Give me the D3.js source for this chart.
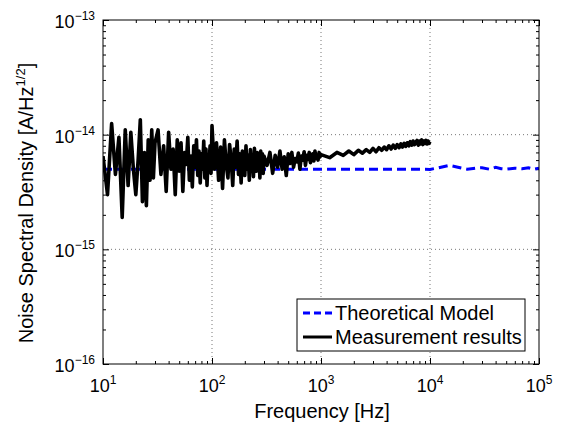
<!DOCTYPE html>
<html>
<head>
<meta charset="utf-8">
<script src="https://cdn.jsdelivr.net/npm/d3@7"></script>
<style>
  body { margin: 0; background: #fff; }
  text { font-family: "Liberation Sans", Arial, sans-serif; fill: #000; }
</style>
</head>
<body>
<div id="chart"></div>
<script>
// Axis decades
const xTicks = [10, 100, 1000, 10000, 100000]
const xTickExp = ["1", "2", "3", "4", "5"]
const yTicks = [1e-16, 1e-15, 1e-14, 1e-13]
const yTickExp = ["\u221216", "\u221215", "\u221214", "\u221213"]

const seriesNames = ["Theoretical Model", "Measurement results"]

// Theoretical model (values in 1e-15 A/Hz^1/2)
const theoryFreq = [10, 100, 1000, 5000, 10000, 12000, 15000, 18000, 22000, 26000,
  30000, 35000, 40000, 45000, 50000, 60000, 70000, 80000, 90000, 100000]
const theoryVal = [5.0, 5.0, 5.0, 5.0, 4.98, 5.15, 5.4, 5.2, 5.0, 5.1,
  5.15, 5.0, 5.2, 5.05, 5.0, 5.1, 5.05, 5.15, 5.0, 5.1]

// Measurement results (values in 1e-15 A/Hz^1/2)
const measFreq = [
  10, 11, 12, 13, 14, 15, 16, 17, 18, 19, 20, 21, 22, 23, 24, 25, 26, 27, 28, 29, 30,
  32, 34, 36, 38, 40, 42, 44, 46, 48, 50, 52, 54, 56, 58, 60, 62, 64, 66, 68, 70,
  72, 74, 76, 78, 80, 82, 84, 86, 88, 90, 92, 94, 96, 98, 100,
  105, 110, 115, 120, 125, 130, 135, 140, 145, 150, 155, 160, 165, 170, 175, 180, 185, 190, 195, 200,
  205, 210, 215, 220, 225, 230, 235, 240, 245, 250, 255, 260, 265, 270, 275, 280, 285, 290, 295, 300,
  320, 340, 360, 380, 400, 420, 440, 460, 480, 500, 520, 540, 560, 580, 600, 620, 640, 660,
  680, 700, 720, 740, 760, 780, 800, 820, 840, 860, 880, 900, 920, 940, 960, 980, 1000,
  1200, 1400, 1600, 1800, 2000, 2200, 2400, 2600, 2800, 3000, 3200, 3400, 3600, 3800, 4000,
  4200, 4400, 4600, 4800, 5000, 5200, 5400, 5600, 5800, 6000, 6200, 6400, 6600, 6800, 7000,
  7200, 7400, 7600, 7800, 8000, 8200, 8400, 8600, 8800, 9000, 9200, 9400, 9600, 9800, 10000
]
const measVal = [
  6.5, 3.0, 12.5, 4.5, 9.5, 1.9, 11.0, 3.6, 10.5, 5.0, 3.0, 6.0, 13.5, 2.6, 7.0, 2.4, 9.0, 4.0, 11.0, 4.2, 8.5,
  11.0, 4.5, 8.0, 3.2, 10.5, 5.0, 7.5, 3.0, 9.0, 4.8, 8.5, 3.2, 7.0, 5.5, 9.5, 4.0, 6.5, 3.5, 8.0, 5.2,
  9.0, 4.4, 7.2, 3.8, 6.8, 5.0, 8.8, 4.2, 7.5, 3.6, 6.2, 5.4, 8.0, 4.6, 12.0,
  5.0, 8.5, 4.0, 7.8, 3.4, 9.0, 5.5, 4.2, 8.2, 6.0, 3.6, 7.5, 5.2, 8.8, 4.5, 6.8, 3.8, 7.2, 5.6, 4.4,
  8.0, 5.0, 6.6, 4.0, 7.4, 5.4, 6.2, 4.3, 7.6, 5.8, 4.8, 7.0, 5.2, 6.4, 4.2, 7.2, 5.6, 6.8, 4.6, 6.5,
  5.4, 7.0, 4.6, 6.6, 5.2, 7.2, 5.0, 6.4, 4.4, 6.8, 5.6, 7.0, 5.2, 6.2, 5.8, 6.9, 5.0, 6.5,
  6.0, 7.1, 5.4, 6.6, 6.1, 7.0, 5.7, 6.4, 6.8, 5.9, 7.2, 6.2, 6.6, 6.0, 7.0, 6.4, 6.7,
  6.3, 7.0, 6.6, 7.2, 6.7, 7.3, 6.9, 7.4, 7.0, 7.6, 7.1, 7.7, 7.3, 7.8, 7.4,
  8.0, 7.5, 8.1, 7.6, 8.2, 7.7, 8.3, 7.8, 8.4, 7.9, 8.5, 8.0, 8.7, 8.1, 8.8,
  8.2, 8.6, 8.9, 8.1, 8.8, 8.3, 9.0, 8.2, 8.8, 8.4, 8.9, 8.3, 8.8, 8.4, 8.7
]

const w = 561
const h = 426
const pLeft = 103, pTop = 20, pRight = 539, pBottom = 364

const xScale = d3.scaleLog().domain([10, 1e5]).range([pLeft, pRight])
const yScale = d3.scaleLog().domain([1e-16, 1e-13]).range([pBottom, pTop])

const svg = d3.select("#chart")
  .append("svg")
  .attr("width", w)
  .attr("height", h)

svg.append("defs").append("clipPath")
  .attr("id", "plot-clip")
  .append("rect")
  .attr("x", pLeft).attr("y", pTop)
  .attr("width", pRight - pLeft).attr("height", pBottom - pTop)

// Grid (dotted, inner decades only)
svg.append("g").selectAll("line")
  .data(xTicks.slice(1, -1))
  .enter().append("line")
  .attr("x1", d => xScale(d)).attr("x2", d => xScale(d))
  .attr("y1", pTop).attr("y2", pBottom)
  .attr("stroke", "#777").attr("stroke-dasharray", "1,3")

svg.append("g").selectAll("line")
  .data(yTicks.slice(1, -1))
  .enter().append("line")
  .attr("y1", d => yScale(d)).attr("y2", d => yScale(d))
  .attr("x1", pLeft).attr("x2", pRight)
  .attr("stroke", "#777").attr("stroke-dasharray", "1,3")

// Minor tick values
const minorX = []
xTicks.slice(0, -1).forEach(d => { for (let k = 2; k < 10; k++) minorX.push(d * k) })
const minorY = []
yTicks.slice(0, -1).forEach(d => { for (let k = 2; k < 10; k++) minorY.push(d * k) })

function drawAxis(axis, transform) {
  const g = svg.append("g").attr("transform", transform).call(axis)
  g.select(".domain").remove()
  g.selectAll(".tick line").attr("stroke", "#000")
  g.selectAll(".tick text").remove()
}
drawAxis(d3.axisBottom(xScale).tickValues(xTicks).tickSize(-6).tickFormat(""), `translate(0,${pBottom})`)
drawAxis(d3.axisBottom(xScale).tickValues(minorX).tickSize(-3).tickFormat(""), `translate(0,${pBottom})`)
drawAxis(d3.axisTop(xScale).tickValues(xTicks).tickSize(-6).tickFormat(""), `translate(0,${pTop})`)
drawAxis(d3.axisTop(xScale).tickValues(minorX).tickSize(-3).tickFormat(""), `translate(0,${pTop})`)
drawAxis(d3.axisLeft(yScale).tickValues(yTicks).tickSize(-6).tickFormat(""), `translate(${pLeft},0)`)
drawAxis(d3.axisLeft(yScale).tickValues(minorY).tickSize(-3).tickFormat(""), `translate(${pLeft},0)`)
drawAxis(d3.axisRight(yScale).tickValues(yTicks).tickSize(-6).tickFormat(""), `translate(${pRight},0)`)
drawAxis(d3.axisRight(yScale).tickValues(minorY).tickSize(-3).tickFormat(""), `translate(${pRight},0)`)

// Data lines
const line = d3.line()
  .x(d => xScale(d[0]))
  .y(d => yScale(d[1] * 1e-15))

const theory = theoryFreq.map((f, i) => [f, theoryVal[i]])
const meas = measFreq.map((f, i) => [f, measVal[i]])

const plot = svg.append("g").attr("clip-path", "url(#plot-clip)")
plot.append("path")
  .datum(theory)
  .attr("d", line)
  .attr("fill", "none")
  .attr("stroke", "#0000ff")
  .attr("stroke-width", 3)
  .attr("stroke-dasharray", "9,5")

plot.append("path")
  .datum(meas)
  .attr("d", line)
  .attr("fill", "none")
  .attr("stroke", "#000")
  .attr("stroke-width", 3.6)
  .attr("stroke-linejoin", "round")

// Box
svg.append("rect")
  .attr("x", pLeft).attr("y", pTop)
  .attr("width", pRight - pLeft).attr("height", pBottom - pTop)
  .attr("fill", "none").attr("stroke", "#000").attr("stroke-width", 1)

// Tick labels
xTicks.forEach((d, i) => {
  const t = svg.append("text")
    .attr("x", xScale(d)).attr("y", pBottom + 28)
    .attr("text-anchor", "middle")
    .style("font-size", "18px")
  t.append("tspan").text("10")
  t.append("tspan").attr("dy", -8).style("font-size", "12px").text(xTickExp[i])
})

yTicks.forEach((d, i) => {
  const t = svg.append("text")
    .attr("x", pLeft - 8).attr("y", yScale(d) + 8)
    .attr("text-anchor", "end")
    .style("font-size", "18px")
  t.append("tspan").text("10")
  t.append("tspan").attr("dy", -8).style("font-size", "12px").text(yTickExp[i])
})

// Axis titles
svg.append("text")
  .attr("x", (pLeft + pRight) / 2 + 1).attr("y", 418)
  .attr("text-anchor", "middle")
  .style("font-size", "20px")
  .text("Frequency [Hz]")

const yt = svg.append("text")
  .attr("transform", "translate(33,203) rotate(-90)")
  .attr("text-anchor", "middle")
  .style("font-size", "20px")
yt.append("tspan").text("Noise Spectral Density [A/Hz")
yt.append("tspan").attr("dy", -8).style("font-size", "13px").text("1/2")
yt.append("tspan").attr("dy", 8).text("]")

// Legend
const legend = svg.append("g")
legend.append("rect")
  .attr("x", 297).attr("y", 299)
  .attr("width", 228).attr("height", 52)
  .attr("fill", "#fff").attr("stroke", "#000").attr("stroke-width", 1)

const legendStyles = [
  { color: "#0000ff", dash: "7,4" },
  { color: "#000", dash: null }
]
seriesNames.forEach((name, i) => {
  const cy = 313 + i * 24
  legend.append("line")
    .attr("x1", 303).attr("x2", 332)
    .attr("y1", cy).attr("y2", cy)
    .attr("stroke", legendStyles[i].color)
    .attr("stroke-width", 3)
    .attr("stroke-dasharray", legendStyles[i].dash)
  legend.append("text")
    .attr("x", 335).attr("y", cy + 7)
    .style("font-size", "20px")
    .text(name)
})
</script>
</body>
</html>
